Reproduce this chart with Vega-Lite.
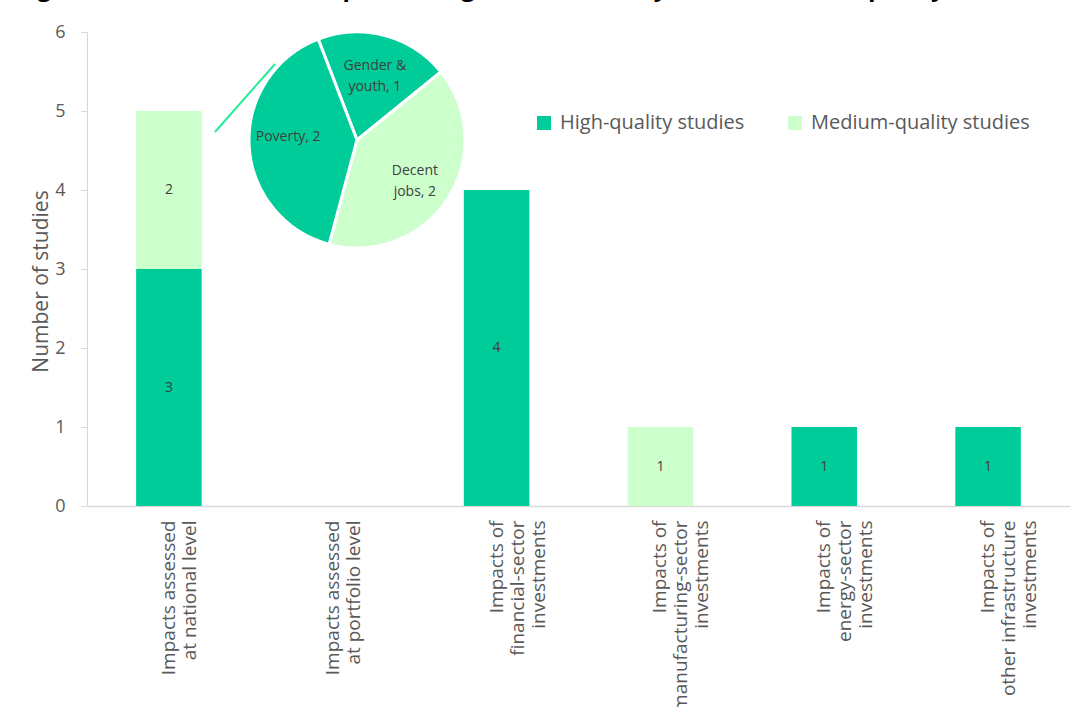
{
  "$schema": "https://vega.github.io/schema/vega-lite/v6.json",
  "width": 983,
  "height": 474,
  "autosize": {"type": "none"},
  "padding": {"left": 87, "top": 32, "right": 10, "bottom": 201},
  "background": "white",
  "config": {"view": {"stroke": null}, "font": "Open Sans"},
  "title": {
    "text": "Figure 11: Distributional impacts: range of evidence by sub-theme and quality",
    "anchor": "start",
    "frame": "group",
    "font": "Open Sans",
    "fontSize": 24,
    "fontWeight": "bold",
    "color": "#000000",
    "baseline": "alphabetic",
    "offset": 17,
    "dx": -70,
    "dy": 14
  },
  "layer": [
    {
      "data": {
        "values": [
          {"category": "Impacts assessed|at national level", "quality": "High-quality studies", "studies": 3},
          {"category": "Impacts assessed|at national level", "quality": "Medium-quality studies", "studies": 2},
          {"category": "Impacts of|financial-sector|investments", "quality": "High-quality studies", "studies": 4},
          {"category": "Impacts of|manufacturing-sector|investments", "quality": "Medium-quality studies", "studies": 1},
          {"category": "Impacts of|energy-sector|investments", "quality": "High-quality studies", "studies": 1},
          {"category": "Impacts of|other infrastructure|investments", "quality": "High-quality studies", "studies": 1}
        ]
      },
      "encoding": {
        "x": {
          "field": "category",
          "type": "nominal",
          "sort": null,
          "scale": {
            "domain": [
              "Impacts assessed|at national level",
              "Impacts assessed|at portfolio level",
              "Impacts of|financial-sector|investments",
              "Impacts of|manufacturing-sector|investments",
              "Impacts of|energy-sector|investments",
              "Impacts of|other infrastructure|investments"
            ],
            "paddingInner": 0.6,
            "paddingOuter": 0.3
          },
          "axis": {
            "title": null,
            "labelAngle": -90,
            "labelAlign": "right",
            "labelBaseline": "middle",
            "labelExpr": "split(datum.label, '|')",
            "labelFont": "Open Sans",
            "labelFontSize": 19,
            "labelLineHeight": 21,
            "labelColor": "#595959",
            "labelLimit": 400,
            "labelPadding": 14,
            "ticks": false,
            "domainColor": "#D9D9D9",
            "domainWidth": 1.5
          }
        }
      },
      "layer": [
        {
          "mark": {"type": "bar"},
          "encoding": {
            "y": {
              "field": "studies",
              "type": "quantitative",
              "stack": "zero",
              "scale": {"domain": [0, 6], "nice": false},
              "axis": {
                "title": "Number of studies",
                "values": [0, 1, 2, 3, 4, 5, 6],
                "format": "d",
                "grid": false,
                "domainColor": "#DDD8C4",
                "tickColor": "#DDD8C4",
                "tickSize": 6,
                "labelFont": "Open Sans",
                "labelFontSize": 18,
                "labelColor": "#595959",
                "labelPadding": 16,
                "titleFont": "Open Sans",
                "titleFontSize": 21,
                "titleFontWeight": "normal",
                "titleColor": "#595959",
                "titlePadding": 3,
                "titleY": 249
              }
            },
            "color": {
              "field": "quality",
              "type": "nominal",
              "scale": {
                "domain": ["High-quality studies", "Medium-quality studies"],
                "range": ["#00CC99", "#CCFFCC"]
              },
              "legend": {
                "title": null,
                "orient": "none",
                "legendX": 447,
                "legendY": 81,
                "direction": "horizontal",
                "symbolType": "square",
                "symbolSize": 196,
                "symbolStrokeWidth": 0,
                "labelFont": "Open Sans",
                "labelFontSize": 20,
                "labelColor": "#595959",
                "labelOffset": 6,
                "labelLimit": 400,
                "columnPadding": 40,
                "padding": 0
              }
            },
            "order": {"field": "quality", "sort": "ascending"}
          }
        },
        {
          "transform": [
            {"stack": "studies", "groupby": ["category"], "sort": [{"field": "quality", "order": "ascending"}], "as": ["lo", "hi"]},
            {"fold": ["lo", "hi"], "as": ["edge", "pos"]},
            {"aggregate": [{"op": "mean", "field": "pos", "as": "mid"}], "groupby": ["category", "quality", "studies"]}
          ],
          "mark": {"type": "text", "font": "Open Sans", "fontSize": 14, "color": "#404040", "baseline": "middle", "align": "center"},
          "encoding": {
            "y": {"field": "mid", "type": "quantitative"},
            "text": {"field": "studies", "type": "quantitative"}
          }
        }
      ]
    },
    {
      "data": {
        "values": [
          {"theme": "Gender & youth", "label": "Gender &\nyouth, 1", "quality": "High-quality studies", "studies": 1, "slice": 1},
          {"theme": "Decent jobs", "label": "Decent\njobs, 2", "quality": "Medium-quality studies", "studies": 2, "slice": 2},
          {"theme": "Poverty", "label": "Poverty, 2", "quality": "High-quality studies", "studies": 2, "slice": 3}
        ]
      },
      "encoding": {
        "x": {"datum": 1.648, "type": "quantitative", "scale": {"domain": [0, 6], "nice": false, "zero": true}, "axis": null},
        "y": {"datum": 4.633, "type": "quantitative", "scale": {"domain": [0, 6], "nice": false, "zero": true}, "axis": null},
        "theta": {"field": "studies", "type": "quantitative", "stack": true, "scale": {"range": [-0.367, 5.916]}},
        "order": {"field": "slice", "type": "quantitative", "sort": "ascending"}
      },
      "layer": [
        {
          "mark": {"type": "arc", "radius": 108, "stroke": "white", "strokeWidth": 3},
          "encoding": {
            "color": {"field": "quality", "type": "nominal"}
          }
        },
        {
          "mark": {"type": "text", "radius": 69, "dy": -7, "font": "Open Sans", "fontSize": 14, "color": "#404040", "lineBreak": "\n", "lineHeight": 21, "align": "center", "baseline": "middle"},
          "encoding": {
            "text": {"field": "label", "type": "nominal"}
          }
        }
      ]
    },
    {
      "data": {"values": [{"link": "national-level bar to pie"}]},
      "mark": {"type": "rule", "color": "#22EE99", "strokeWidth": 2},
      "encoding": {
        "x": {"datum": 0.781, "type": "quantitative", "scale": {"domain": [0, 6], "nice": false, "zero": true}, "axis": null},
        "y": {"datum": 4.734, "type": "quantitative", "scale": {"domain": [0, 6], "nice": false, "zero": true}, "axis": null},
        "x2": {"datum": 1.1475},
        "y2": {"datum": 5.595}
      }
    }
  ],
  "resolve": {
    "scale": {"x": "independent", "y": "independent"},
    "axis": {"x": "independent", "y": "independent"}
  }
}
